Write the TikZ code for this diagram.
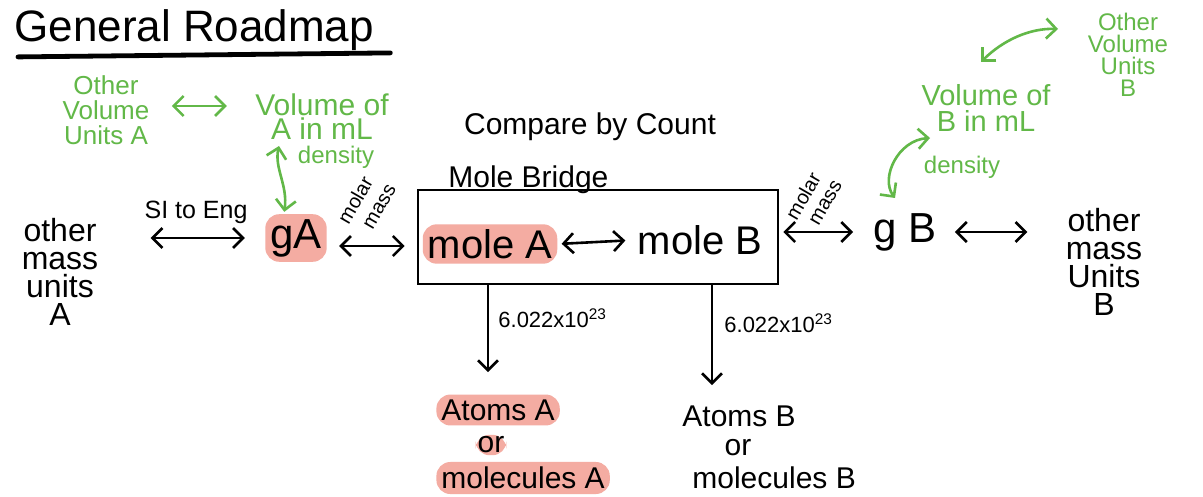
\documentclass[tikz,border=0pt]{standalone}
\usepackage{fontspec}
\setmainfont{Liberation Sans}
\usetikzlibrary{arrows.meta}
\definecolor{grn}{RGB}{98,184,72}
\definecolor{hl}{RGB}{244,172,162}
\begin{document}
\begin{tikzpicture}[x=0.5pt,y=-0.5pt,
  lbl/.style={inner sep=1pt, align=center},
  glbl/.style={text=grn, inner sep=1pt, align=center},
  hlbox/.style={fill=hl, rounded corners=7pt, inner sep=2.5pt},
  conn/.style={line width=1.3pt, {Straight Barb[length=5pt,width=10pt]}-{Straight Barb[length=5pt,width=10pt]}},
  gconn/.style={conn, draw=grn},
  downarrow/.style={line width=1.3pt, -{Straight Barb[length=5pt,width=10pt]}},
  fbig/.style={font=\fontsize{21}{24}\selectfont},
  fmid/.style={font=\fontsize{15}{16}\selectfont},
  fsmall/.style={font=\fontsize{10}{10}\selectfont},
]
\fill[white] (0,0) rectangle (1203,497);
\path[use as bounding box] (0,0) rectangle (1203,497);

% title
\node[font=\fontsize{22}{24}\selectfont, anchor=west, inner sep=0pt] (title) at (14,30) {General Roadmap};
\draw[line width=2.4pt, line cap=round] ([xshift=2pt,yshift=-3pt]title.south west) -- ([xshift=8pt,yshift=-1pt]title.south east);

% left side
\node[lbl, font=\fontsize{16}{14}\selectfont] (massA) at (60,272) {other\\mass\\units\\A};
\node[hlbox, fbig] (gA) at (296,238) {gA};
\node[lbl, font=\fontsize{12.5}{13}\selectfont] (sieng) at (196,212) {SI to Eng};
\node[lbl, fsmall, rotate=60, anchor=center] (mmA1) at (355,200) {molar};
\node[lbl, fsmall, rotate=60, anchor=center] (mmA2) at (380,207) {mass};

% mole bridge
\node[draw, line width=1.3pt, minimum width=180pt, minimum height=47pt, inner sep=0pt] (bridge) at (598,237) {};
\node[lbl, fmid, anchor=south west] (bridgelbl) at (446,196) {Mole Bridge};
\node[lbl, fmid] (compare) at (590,127) {Compare by Count};
\node[hlbox, font=\fontsize{20}{22}\selectfont] (moleA) at (490,244) {mole A};
\node[lbl, font=\fontsize{20}{22}\selectfont] (moleB) at (700,240) {mole B};

% right side
\node[lbl, fsmall, rotate=60] (mmB1) at (803,196) {molar};
\node[lbl, fsmall, rotate=60] (mmB2) at (826,203) {mass};
\node[lbl, fbig] (gB) at (905,232) {g B};
\node[lbl, font=\fontsize{16}{14}\selectfont] (massB) at (1104,262) {other\\mass\\Units\\B};

% green volume parts
\node[glbl, font=\fontsize{13}{12.5}\selectfont] (volUA) at (106,110) {Other\\Volume\\Units A};
\node[glbl, font=\fontsize{15}{12}\selectfont] (volA) at (322,117) {Volume of\\A in mL};
\node[glbl, font=\fontsize{12}{12}\selectfont] (densA) at (336,157) {density};
\node[glbl, font=\fontsize{14.5}{13}\selectfont] (volB) at (986,108) {Volume of\\B in mL};
\node[glbl, font=\fontsize{12}{12}\selectfont] (densB) at (962,167) {density};
\node[glbl, font=\fontsize{12}{11}\selectfont] (volUB) at (1128,55) {Other\\Volume\\Units\\B};

% atoms
\node[hlbox, fmid, anchor=west] (atomsA) at (436,410) {Atoms A};
\node[hlbox, fmid, inner sep=1pt] (orA) at (491,445) {or};
\node[hlbox, fmid, anchor=west] (molecA) at (436,478) {molecules A};
\node[lbl, fmid, anchor=west] (atomsB) at (680,416) {Atoms B};
\node[lbl, fmid] (orB) at (738,448) {or};
\node[lbl, fmid, anchor=west] (molecB) at (690,478) {molecules B};

% avogadro labels
\node[lbl, font=\fontsize{11}{12}\selectfont, anchor=west] (avA) at (496,318) {6.022x10\textsuperscript{23}};
\node[lbl, font=\fontsize{11}{12}\selectfont, anchor=west] (avB) at (722,323) {6.022x10\textsuperscript{23}};

% connector end points
\coordinate (vAbot) at (279,146);
\coordinate (vBbot) at (930,138);
\coordinate (gBtop) at (895,198);
\coordinate (vBtop) at (981,62);
\coordinate (vUBleft) at (1058,29);

% black connectors
\draw[conn, shorten <=25pt, shorten >=10pt] (massA.east |- gA.east) -- (gA.west);
\draw[conn, shorten <=6pt, shorten >=6pt] ([yshift=-4pt]gA.east) -- ([yshift=-4pt]gA.east -| bridge.west);
\draw[conn, shorten <=2pt, shorten >=5pt] (moleA.east) -- (moleB.west);
\draw[conn, shorten <=2pt, shorten >=9pt] (bridge.east |- gB.east) -- (gB.west);
\draw[conn, shorten <=8pt, shorten >=18pt] (gB.east) -- (gB.east -| massB.west);
\draw[downarrow, shorten >=11pt] (bridge.south -| 488,0) -- (atomsA.north -| 488,0);
\draw[downarrow, shorten >=9pt] (bridge.south -| 712,0) -- (atomsB.north -| 712,0);

% green connectors
\draw[gconn, shorten <=10pt, shorten >=13pt] (volUA.east |- 0,106) -- (volA.west |- 0,106);
\draw[gconn, shorten <=1pt] ([xshift=-6pt]gA.north) .. controls (288,185) and (274,168) .. (vAbot);
\draw[gconn] (vBbot) .. controls (898,140) and (880,178) .. (gBtop);
\draw[gconn] (vBtop) .. controls (1003,40) and (1030,28) .. (vUBleft);
\end{tikzpicture}
\end{document}
